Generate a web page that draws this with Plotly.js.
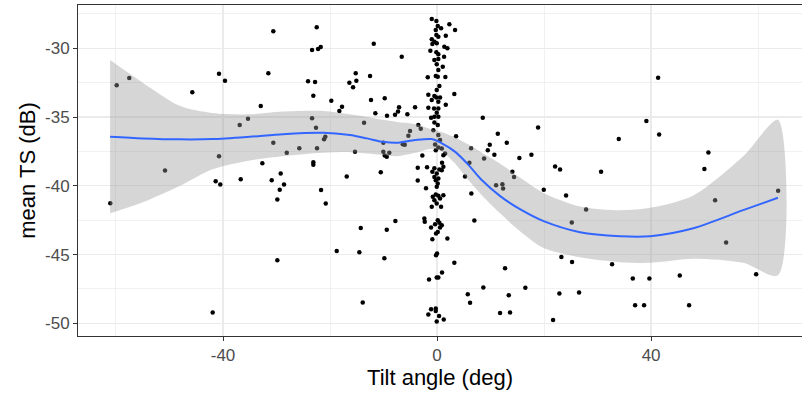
<!DOCTYPE html>
<html>
<head>
<meta charset="utf-8">
<script src="https://cdn.plot.ly/plotly-3.0.1.min.js"></script>
<style>html,body{margin:0;padding:0;background:#fff;overflow:hidden;}#chart{width:802px;height:401px;}</style>
</head>
<body>
<div id="chart"></div>
<script>
// Scatter data: tilt angle (deg) and mean TS (dB)
const tiltAngle = [
-61.07,-59.87,-57.52,-50.84,-45.74,-41.93,-41.37,-40.75,-40.75,-40.51,-39.63,-36.88,-36.69,-35.33,-32.95,-32.65,-31.53,-30.90,-30.60,-30.60,
-29.85,-29.85,-29.40,-29.22,-28.60,-28.09,-25.74,-24.11,-23.36,-23.36,-23.12,-23.12,-23.12,-22.80,-22.62,-22.49,-22.43,-22.24,-21.74,-21.68,
-21.12,-20.88,-20.80,-19.76,-18.75,-18.26,-17.76,-16.88,-16.39,-15.70,-15.33,-15.20,-15.08,-14.52,-14.26,-13.89,-13.64,-12.52,-12.34,-11.83,
-11.53,-10.52,-10.04,-10.04,-9.85,-9.78,-9.78,-9.40,-9.40,-9.35,-8.92,-7.85,-7.79,-7.29,-7.10,-6.60,-6.41,-6.04,-5.55,-5.36,
-5.05,-4.11,-3.61,-3.61,-3.50,-3.05,-2.75,-2.37,-2.30,-2.06,-1.87,-1.63,
-0.99,-0.13,0.13,0.75,2.30,3.36,-0.24,-0.13,1.63,0.24,-0.99,-0.50,-0.06,-0.88,1.36,1.93,-1.25,-0.13,0.24,1.31,
-0.50,0.24,-0.06,1.07,0.24,-1.74,-0.24,0.13,1.55,0.43,-0.06,-1.63,-0.50,-0.13,0.56,3.23,-0.99,0.24,1.63,-1.63,
-0.56,0.24,-0.06,0.24,-1.12,-0.50,-0.50,0.13,-0.69,0.24,0.56,-0.37,0.24,-0.24,0.88,1.50,1.18,3.55,-0.50,0.43,
1.18,0.93,0.88,-0.88,-0.06,-0.50,0.24,-0.24,0.13,-0.06,-0.24,0.24,-0.80,1.18,-0.50,0.56,-0.06,-0.99,0.75,0.13,
0.43,-0.37,0.88,-1.12,0.56,0.13,-0.19,-0.88,1.93,0.00,-0.19,0.93,-0.06,0.24,-1.50,-1.12,-0.24,-0.24,0.37,1.25,-0.06,
3.23,5.23,5.74,6.04,6.17,6.36,6.41,6.97,8.54,8.65,8.79,9.48,9.85,10.71,11.03,11.35,11.78,12.21,12.34,12.71,
13.03,13.40,13.64,14.07,14.39,15.38,16.50,17.63,18.88,19.94,21.68,22.06,22.86,22.99,23.23,24.11,25.18,25.23,26.54,27.85,
30.65,32.71,33.96,36.58,37.01,38.69,39.12,39.68,41.31,41.50,45.36,47.10,49.96,50.71,51.96,54.02,59.63,63.74
];
const meanTS = [
-41.26,-32.69,-32.16,-38.89,-33.20,-49.21,-39.66,-31.85,-37.84,-39.90,-32.36,-35.58,-39.53,-35.12,-34.20,-38.35,-31.82,-39.59,-28.76,-36.87,
-40.99,-45.41,-40.29,-39.10,-39.90,-37.60,-37.26,-32.40,-30.12,-35.09,-33.45,-38.28,-38.46,-32.45,-35.78,-28.47,-37.26,-30.05,-29.91,-40.31,
-36.62,-36.43,-41.28,-33.81,-44.73,-34.56,-34.25,-39.32,-32.50,-32.84,-37.53,-31.82,-32.36,-44.83,-43.06,-48.49,-35.41,-32.02,-33.76,-29.67,
-34.73,-39.02,-36.87,-37.53,-45.26,-33.64,-37.79,-37.89,-43.20,-34.91,-37.60,-34.83,-42.55,-34.59,-34.29,-30.61,-36.97,-37.02,-34.80,-36.36,
-36.02,-34.29,-38.69,-39.61,-35.58,-35.85,-37.79,-42.37,-42.62,-40.17,-38.64,-49.36,
-27.87,-28.01,-28.38,-28.54,-28.25,-28.67,-28.67,-29.03,-29.08,-29.16,-29.34,-29.52,-29.64,-29.69,-29.88,-30.00,-30.17,-30.29,-30.44,-30.61,
-30.85,-30.78,-31.16,-31.34,-31.58,-32.11,-32.02,-32.07,-32.09,-32.74,-33.03,-33.38,-33.47,-33.57,-33.57,-33.33,-33.76,-33.89,-34.10,-34.32,
-34.37,-34.37,-34.69,-34.98,-35.05,-34.98,-35.39,-35.58,-35.95,-36.31,-36.67,-36.99,-37.21,-37.42,-37.28,-37.64,-37.77,-36.40,-38.73,-38.81,
-38.62,-38.33,-38.86,-38.98,-39.10,-39.35,-39.46,-39.59,-39.83,-40.07,-40.63,-40.73,-40.80,-40.68,-41.04,-40.92,-41.28,-41.53,-41.53,-42.50,
-42.69,-42.79,-42.86,-43.03,-43.03,-43.35,-43.46,-43.88,-43.83,-44.92,-45.04,-46.30,-46.67,-46.67,-46.81,-48.97,-48.92,-49.10,-49.46,-49.72,-49.87,
-45.59,-39.33,-47.88,-38.33,-48.50,-37.26,-40.55,-42.52,-35.04,-47.39,-38.02,-37.42,-37.02,-37.74,-39.95,-36.22,-49.24,-39.88,-40.19,-45.99,
-36.87,-47.95,-49.21,-38.98,-39.35,-37.98,-47.42,-37.74,-35.75,-40.29,-49.75,-38.60,-47.83,-38.81,-45.17,-40.70,-42.66,-45.53,-47.76,-41.72,
-38.98,-45.70,-36.60,-46.74,-48.68,-48.68,-35.29,-46.74,-32.14,-36.26,-46.52,-48.68,-38.78,-37.57,-41.04,-44.12,-46.43,-40.36
];

// Loess smooth and its confidence band
const smoothX   = [-61.1,-55,-48,-42,-35,-28.8,-21.3,-16.3,-13.1,-10.1,-7.5,-4.1,-1,0.9,3.4,5.9,8.4,11.8,15.5,19.8,26.7,34.2,39.8,47.9,57.2,63.7];
const smoothY   = [-36.43,-36.55,-36.62,-36.6,-36.43,-36.24,-36.14,-36.31,-36.55,-36.8,-36.87,-36.67,-36.6,-36.91,-37.53,-38.49,-39.6,-40.75,-41.7,-42.55,-43.37,-43.66,-43.66,-43.08,-41.77,-40.87];
const smoothUpper = [-30.85,-32.5,-34.2,-34.7,-34.8,-34.6,-34.55,-34.8,-35.0,-35.2,-35.35,-35.5,-35.9,-36.1,-36.5,-37.0,-37.6,-38.4,-39.4,-40.5,-41.5,-41.77,-41.6,-40.7,-37.85,-35.2];
const smoothLower = [-42.0,-41.2,-40.0,-38.8,-38.15,-37.85,-37.6,-37.55,-37.65,-37.76,-37.85,-37.6,-37.3,-37.5,-38.4,-39.6,-40.7,-42.0,-43.3,-44.5,-45.2,-45.55,-45.6,-45.3,-45.6,-46.5];

const xTicks = [-40, 0, 40];
const yTicks = [-50, -45, -40, -35, -30];

const font = 'Liberation Sans, Arial, Helvetica, sans-serif';

const traces = [
  {x: tiltAngle, y: meanTS, type: 'scatter', mode: 'markers',
   marker: {color: '#000000', size: 4.5}, hoverinfo: 'x+y'},
  {x: smoothX.concat(smoothX.slice().reverse()),
   y: smoothUpper.concat(smoothLower.slice().reverse()),
   type: 'scatter', mode: 'lines', fill: 'toself',
   fillcolor: 'rgba(153,153,153,0.4)', line: {width: 0, shape: 'spline', smoothing: 0.8}, hoverinfo: 'skip'},
  {x: smoothX, y: smoothY, type: 'scatter', mode: 'lines',
   line: {color: '#3366FF', width: 2, shape: 'spline', smoothing: 0.8}}
];

const layout = {
  width: 802, height: 401,
  margin: {l: 78, r: 0, t: 5, b: 65},
  paper_bgcolor: '#ffffff', plot_bgcolor: '#ffffff',
  showlegend: false,
  font: {family: font},
  xaxis: {
    range: [-67.1, 68.2], tickmode: 'array', tickvals: xTicks, ticktext: xTicks.map(String),
    ticks: 'outside', ticklen: 4, tickwidth: 1, tickcolor: '#333333',
    showgrid: true, gridcolor: '#EBEBEB', gridwidth: 1.3, zeroline: false,
    minor: {tick0: 0, dtick: 20, showgrid: true, gridcolor: '#EBEBEB', gridwidth: 0.7, ticks: ''},
    showline: true, mirror: true, linecolor: '#333333', linewidth: 1,
    tickfont: {family: font, size: 17, color: '#4D4D4D'},
    title: {text: 'Tilt angle (deg)', font: {family: font, size: 22, color: '#000000'}, standoff: 4}
  },
  yaxis: {
    range: [-50.92, -26.85], tickmode: 'array', tickvals: yTicks, ticktext: yTicks.map(String),
    ticks: 'outside', ticklen: 4, tickwidth: 1, tickcolor: '#333333',
    showgrid: true, gridcolor: '#EBEBEB', gridwidth: 1.3, zeroline: false,
    minor: {tick0: -30, dtick: 2.5, showgrid: true, gridcolor: '#EBEBEB', gridwidth: 0.7, ticks: ''},
    showline: true, mirror: false, linecolor: '#333333', linewidth: 1,
    tickfont: {family: font, size: 17, color: '#4D4D4D'},
    title: {text: 'mean TS (dB)', font: {family: font, size: 22, color: '#000000'}, standoff: 3}
  }
};

Plotly.newPlot('chart', traces, layout, {displayModeBar: false, staticPlot: true});
</script>
</body>
</html>
